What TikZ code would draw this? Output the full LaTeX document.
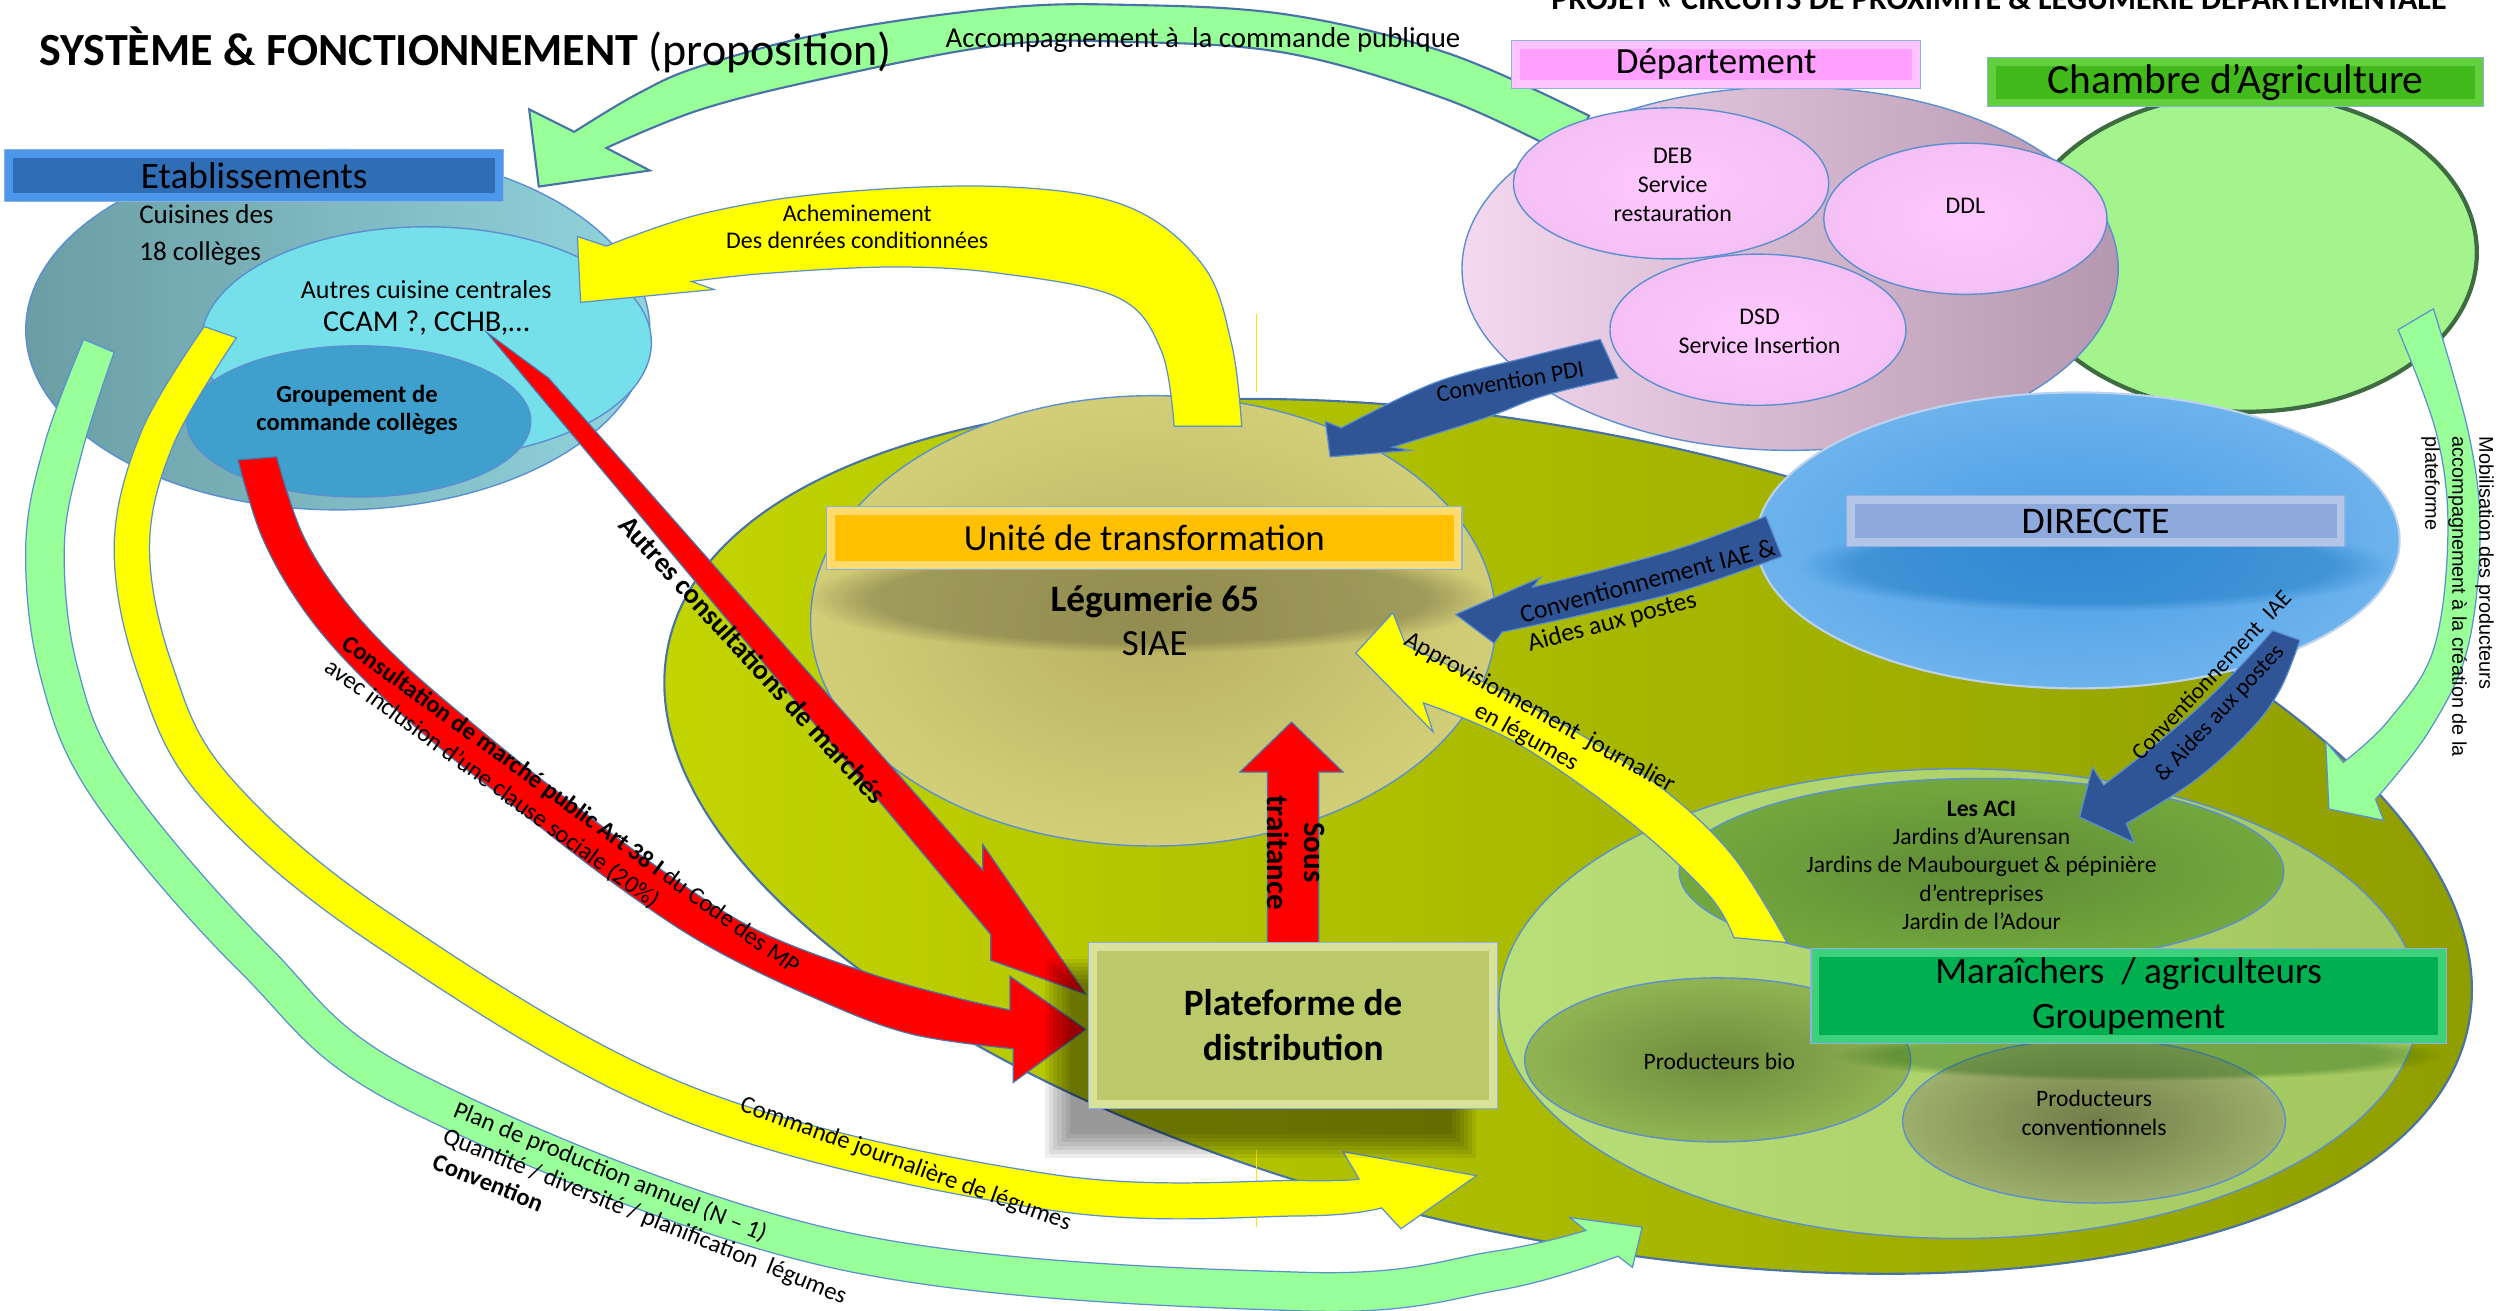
\documentclass[tikz,border=0pt]{standalone}
\usepackage{fontspec}
\setmainfont{Carlito}
\newfontfamily\arialfont{Liberation Sans}
\usetikzlibrary{fadings}
\newcommand\fs[2]{\fontsize{#1}{#2}\selectfont}
\newcommand\pxu{0.016083cm}
\definecolor{edgeblue}{HTML}{5B8FD0}
\definecolor{olivedark}{HTML}{8E9C00}
\definecolor{olivelight}{HTML}{C3D600}
\definecolor{tealdark}{HTML}{6B9DA4}
\definecolor{teallight}{HTML}{92D4DD}
\definecolor{cyanfill}{HTML}{76E0EA}
\definecolor{groupblue}{HTML}{3F9FCD}
\definecolor{pinkL}{HTML}{F4D8F0}
\definecolor{pinkR}{HTML}{B597AF}
\definecolor{pinkC}{HTML}{FFC8FF}
\definecolor{chambreG}{HTML}{A3F48D}
\definecolor{chambreE}{HTML}{3E6B40}
\definecolor{dirC}{HTML}{4A9BE2}
\definecolor{dirO}{HTML}{8FCBF9}
\definecolor{uniteC}{HTML}{B7B062}
\definecolor{uniteO}{HTML}{EDED8E}
\definecolor{maraiL}{HTML}{B9DF78}
\definecolor{maraiR}{HTML}{A3C65E}
\definecolor{aciC}{HTML}{5F8B35}
\definecolor{aciO}{HTML}{86C546}
\definecolor{bioC}{HTML}{6E8B3D}
\definecolor{bioO}{HTML}{B4DE68}
\definecolor{convC}{HTML}{727C48}
\definecolor{convO}{HTML}{C8E38F}
\definecolor{arrowyellow}{HTML}{FFFF00}
\definecolor{arrowred}{HTML}{FF0000}
\definecolor{arrowgreen}{HTML}{99FF99}
\definecolor{arrowblue}{HTML}{2F5597}
\definecolor{etabO}{HTML}{4C97EC}
\definecolor{etabI}{HTML}{2F6DB6}
\definecolor{deptO}{HTML}{FFC4FF}
\definecolor{deptI}{HTML}{FF9FFF}
\definecolor{chamO}{HTML}{62CF3E}
\definecolor{chamI}{HTML}{42BA1C}
\definecolor{dirhO}{HTML}{B3C6E9}
\definecolor{dirhI}{HTML}{8EA9DB}
\definecolor{uniO}{HTML}{FFDB6E}
\definecolor{uniI}{HTML}{FFC000}
\definecolor{marO}{HTML}{3ED07A}
\definecolor{marI}{HTML}{00B050}
\definecolor{platO}{HTML}{D9E29B}
\definecolor{platI}{HTML}{BCC96B}
\colorlet{radin}{black}\colorlet{radout}{white}
\pgfdeclareradialshading[radin,radout]{softrad}{\pgfpointorigin}{color(0bp)=(radin); color(50bp)=(radout)}
\tikzset{
  rad/.style 2 args={/utils/exec={\colorlet{radin}{#1}\colorlet{radout}{#2}}, shading=softrad},
  bevel/.style 2 args={draw=edgeblue!70, line width=0.3pt, fill=#1, inner sep=0pt,
    path picture={\fill[#2] ([xshift=2.4pt,yshift=-2.4pt]path picture bounding box.north west) rectangle ([xshift=-2.4pt,yshift=2.4pt]path picture bounding box.south east);}},
  shape edge/.style={draw=edgeblue, line width=0.4pt},
  yarrow/.style={fill=arrowyellow, draw=edgeblue, line width=0.35pt, line join=miter},
  rarrow/.style={fill=arrowred, draw=edgeblue!80!black, line width=0.35pt, line join=miter},
  garrow/.style={fill=arrowgreen, draw=edgeblue, line width=0.35pt, line join=miter},
  barrow/.style={fill=arrowblue, draw=edgeblue, line width=0.35pt, line join=miter},
  lbl/.style={inner sep=1pt, text=black},
}
\begin{document}
\begin{tikzpicture}[x=0.016083cm, y=-0.016083cm]
\useasboundingbox (0,0) rectangle (1560,815);
\clip (0,0) rectangle (1560,815);

% ---------------- big olive ellipse
\shadedraw[left color=olivelight, right color=olivedark, draw=edgeblue!80!black, line width=0.6pt,
  rotate around={-12:(975,520)}] (975,520) ellipse [x radius=572, y radius=250];

% ---------------- Etablissements group
\shadedraw[left color=tealdark, right color=teallight, shape edge] (210,205) ellipse [x radius=194, y radius=112];
\filldraw[fill=cyanfill, shape edge] (265,213) ellipse [x radius=140, y radius=72];
\filldraw[fill=groupblue, shape edge] (223,262) ellipse [x radius=107, y radius=47];

% ---------------- Unite de transformation
\shadedraw[rad={uniteC}{uniteO}, shape edge] (717,386) ellipse [x radius=213, y radius=140];
\fill[black!60!olive, opacity=0.35, path fading=circle with fuzzy edge 20 percent] (715,372) ellipse [x radius=215, y radius=34];

% ---------------- Chambre d'Agriculture ellipse
\filldraw[fill=chambreG, draw=chambreE, line width=1.2pt] (1397,157) ellipse [x radius=143, y radius=99];

% ---------------- green arrow (accompagnement)
\path[garrow, draw=edgeblue!80!black, line width=0.6pt]
  plot[smooth, tension=0.6] coordinates {(988,72) (900,33) (800,9) (700,3) (622,5) (516,20) (436,41) (397,58) (357,82)}
  -- (329,68) -- (335,116) -- (404,106)
  -- plot[smooth, tension=0.6] coordinates {(377,92) (436,68) (516,48) (622,28) (700,26) (800,33) (900,62) (975,97)} -- cycle;

% ---------------- Departement
\shadedraw[left color=pinkL, right color=pinkR, shape edge] (1113,167) ellipse [x radius=204, y radius=113];
\path[barrow]
  plot[smooth, tension=0.6] coordinates {(995,211) (950,222) (892,238) (834,266)}
  -- (824,262) -- (827,284) -- (877,280)
  -- plot[smooth, tension=0.6] coordinates {(866,278) (923,260) (960,246) (1006,235)} -- cycle;
\shadedraw[rad={pinkC}{pinkC!92!black}, shape edge] (1039,114) ellipse [x radius=98, y radius=47];
\shadedraw[rad={pinkC}{pinkC!92!black}, shape edge] (1222,136) ellipse [x radius=88, y radius=47];
\shadedraw[rad={pinkC}{pinkC!92!black}, shape edge] (1093,205) ellipse [x radius=92, y radius=47];
\node[lbl, font=\fs{6.8}{8.2}, align=center] (deb) at (1040,115) {DEB\\Service\\restauration};
\node[lbl, font=\fs{6.8}{8.2}] (ddl) at (1222,128) {DDL};
\node[lbl, font=\fs{6.8}{8.2}, align=center] (dsd) at (1094,206) {DSD\\Service Insertion};
\node[bevel={deptO}{deptI}, minimum width=254*\pxu, minimum height=30*\pxu, font=\fs{10.5}{12}] (dept) at (1067,40) {Département};
\node[bevel={chamO}{chamI}, minimum width=308*\pxu, minimum height=31*\pxu, font=\fs{11.8}{13}] (cham) at (1390,51) {Chambre d’Agriculture};

% ---------------- DIRECCTE
\shadedraw[rad={dirC}{dirO}, draw=white!60!edgeblue, line width=0.6pt] (1292,336) ellipse [x radius=200, y radius=92];
\fill[black!50!blue!60!cyan, opacity=0.35, path fading=circle with fuzzy edge 20 percent] (1303,352) ellipse [x radius=185, y radius=28];
\node[bevel={dirhO}{dirhI}, minimum width=310*\pxu, minimum height=32*\pxu, font=\fs{10.7}{12}] (dirh) at (1303,324) {DIRECCTE};

% ---------------- Maraichers group
\shadedraw[left color=maraiL, right color=maraiR, shape edge] (1218,624) ellipse [x radius=286, y radius=146];
\shadedraw[rad={aciC}{aciO}, shape edge] (1232,542) ellipse [x radius=188, y radius=58];
\shadedraw[rad={bioC}{bioO}, shape edge] (1068,659) ellipse [x radius=120, y radius=51];
\shadedraw[rad={convC}{convO}, shape edge] (1302,697) ellipse [x radius=119, y radius=51];
\node[lbl, font=\fs{6.7}{8.1}, align=center] (aci) at (1232,538) {\textbf{Les ACI}\\Jardins d’Aurensan\\Jardins de Maubourguet \& pépinière\\d’entreprises\\Jardin de l’Adour};
\node[lbl, font=\fs{6.7}{8.1}] (bio) at (1069,660) {Producteurs bio};
\node[lbl, font=\fs{6.7}{8.2}, align=center] (conv) at (1302,692) {Producteurs\\conventionnels};
\fill[black!70!green, opacity=0.3, path fading=circle with fuzzy edge 20 percent] (1330,656) ellipse [x radius=190, y radius=16];
\node[bevel={marO}{marI}, minimum width=395*\pxu, minimum height=59*\pxu, align=center, font=\fs{10.6}{12.8}] (marh) at (1323.5,619.5) {Maraîchers\ \ / agriculteurs\\Groupement};

% ---------------- Unite header & texts
\node[bevel={uniO}{uniI}, minimum width=395*\pxu, minimum height=39*\pxu, font=\fs{10.5}{12}] (unih) at (711.5,334.5) {Unité de transformation};
\node[lbl, font=\fs{10.6}{12}\bfseries] (leg) at (718,374) {Légumerie 65};
\node[lbl, font=\fs{10.5}{12}] (siae) at (718,400) {SIAE};

% ---------------- Etablissements texts
\node[bevel={etabO}{etabI}, minimum width=310*\pxu, minimum height=32*\pxu, font=\fs{10.6}{12}] (etab) at (158,109) {Etablissements};
\node[lbl, font=\fs{7.7}{10.5}, align=left, anchor=west] (cuis) at (84,146) {Cuisines des\\18 collèges};
\node[lbl, font=\fs{7.4}{9}] (autres) at (265,180) {Autres cuisine centrales};
\node[lbl, font=\fs{8.6}{10}] (ccam) at (265,201) {CCAM ?, CCHB,…};
\node[lbl, font=\fs{7}{7.8}\bfseries, align=center] (grp) at (222,255) {Groupement de\\commande collèges};

% ---------------- thin guide lines
\coordinate (g1a) at (781,195); \coordinate (g1b) at (781,244);
\coordinate (g2a) at (781,715); \coordinate (g2b) at (781,763);
\draw[yellow!85!orange, line width=0.3pt] (g1a) -- (g1b);
\draw[yellow!85!orange, line width=0.3pt] (g2a) -- (g2b);

% ---------------- arrows
% acheminement
\path[yarrow]
  plot[smooth, tension=0.6] coordinates {(377,153) (436,133) (516,120) (622,116) (700,128) (748,165) (766,215) (772,265)}
  -- plot[smooth, tension=0.6] coordinates {(730,265) (722,218) (695,185) (622,170) (555,166) (476,170) (430,175)}
  -- (444,180) -- (361,188) -- (359,147) -- cycle;
% autres consultations
\path[rarrow] (303,207) -- (341,235) -- (611,541) -- (611,525) -- (675,618) -- (616,597) -- (616,581) -- cycle;
% consultation marche public
\path[rarrow]
  plot[smooth, tension=0.6] coordinates {(148,286) (163,334) (188,378) (222,418) (270,462) (318,500) (380,548) (440,588) (510,622) (567,643) (630,652)}
  -- (630,673) -- (675,640) -- (628,607)
  -- plot[smooth, tension=0.6] coordinates {(628,628) (593,620) (540,605) (470,578) (410,540) (350,495) (300,455) (250,412) (214,373) (188,332) (172,284)} -- cycle;
% sous traitance
\path[rarrow] (788,588) -- (788,480) -- (771,480) -- (803,449) -- (835,480) -- (820,480) -- (820,588) -- cycle;
% conventionnement IAE left
\path[barrow]
  plot[smooth, tension=0.6] coordinates {(1098,321) (1050,339) (1005,352) (953,365)}
  -- (958,359) -- (905,382) -- (929,400)
  -- plot[smooth, tension=0.6] coordinates {(934,393) (985,382) (1047,367) (1108,346)} -- cycle;
% conventionnement IAE right
\path[barrow]
  plot[smooth, tension=0.6] coordinates {(1413,392) (1395,412) (1369,438) (1340,463) (1308,488)}
  -- (1301,477) -- (1293,508) -- (1327,524)
  -- plot[smooth, tension=0.6] coordinates {(1322,512) (1365,485) (1400,453) (1418,428) (1430,398)} -- cycle;
% approvisionnement
\path[yarrow]
  plot[smooth, tension=0.6] coordinates {(1111,586) (1078,533) (1037,493) (985,458) (930,428) (874,401)}
  -- (866,381) -- (843,406) -- (891,455)
  -- plot[smooth, tension=0.6] coordinates {(885,437) (943,462) (1012,510) (1062,556) (1078,583)} -- cycle;
% mobilisation
\path[garrow]
  plot[smooth, tension=0.6] coordinates {(1491,205) (1515,270) (1522,332) (1513,404) (1485,448) (1457,474)}
  -- (1446,461) -- (1448,503) -- (1482,510)
  -- plot[smooth, tension=0.6] coordinates {(1477,497) (1510,455) (1534,404) (1542,332) (1535,270) (1513,192)} -- cycle;
% commande journaliere (yellow, bottom)
\path[yarrow]
  plot[smooth, tension=0.6] coordinates {(127,203) (88,268) (71,340) (86,420) (126,497) (232,587) (423,696) (650,752) (809,756) (859,751)}
  -- (871,764) -- (918,731) -- (835,716)
  -- plot[smooth, tension=0.6] coordinates {(845,733) (809,734) (653,730) (431,676) (244,569) (143,483) (107,413) (93,340) (108,276) (147,210)} -- cycle;
% plan de production (green, bottom)
\path[garrow]
  plot[smooth, tension=0.6] coordinates {(52,211) (28,275) (16,340) (25,420) (58,497) (150,605) (253,690) (516,788) (808,815) (933,802) (1006,781)}
  -- (1015,788) -- (1021,763) -- (976,757)
  -- plot[smooth, tension=0.6] coordinates {(986,765) (929,778) (809,791) (521,765) (264,669) (167,588) (78,484) (48,414) (40,340) (51,281) (71,219)} -- cycle;

% ---------------- Plateforme
\foreach \k in {0,...,6}{\fill[black, opacity=0.07] ({650+2.5*\k},{596+2.5*\k}) rectangle ({918-2.5*\k},{720-2.5*\k});}
\node[bevel={platO}{platI}, minimum width=254*\pxu, minimum height=103*\pxu, align=center, font=\fs{10.6}{12.8}\bfseries] (plat) at (804,637.5) {Plateforme de\\distribution};

% ---------------- labels
\node[lbl, anchor=base west, font=\fs{13.1}{16}] (title) at (22,41) {\textbf{SYSTÈME \& FONCTIONNEMENT} (proposition)};
\node[lbl, anchor=base west, font=\fs{9.1}{11}\bfseries] (projet) at (962,6) {PROJET « CIRCUITS DE PROXIMITÉ \& LÉGUMERIE DÉPARTEMENTALE};
\node[lbl, font=\fs{8.2}{10}] (lblacc) at (748,25) {Accompagnement à\ \ la commande publique};
\node[lbl, font=\fs{6.8}{7.9}, align=center] (lblach) at (533,141) {Acheminement\\Des denrées conditionnées};
\node[lbl, font=\fs{8}{9.6}\bfseries, rotate=-47.5] (lblautres) at (468,410) {Autres consultations de marchés};
\node[font=\fs{7}{8.2}, rotate=-36, anchor=north west, align=left, inner sep=0pt] (lblcons) at (218,393) {\textbf{Consultation de marché public Art 38 I} du Code des MP\\avec inclusion d’une clause sociale (20\%)};
\node[lbl, font=\fs{8.8}{10.5}\bfseries, rotate=-90, align=center] (lblsous) at (806,530) {Sous\\traitance};
\node[lbl, font=\fs{6.8}{8}, rotate=10] (lblpdi) at (939,237) {Convention PDI};
\node[lbl, font=\fs{7.3}{8.4}, rotate=15, align=left] (lbliae1) at (1027,371) {Conventionnement IAE \&\\Aides aux postes};
\node[font=\fs{6.6}{8}, rotate=47, anchor=base west, inner sep=0pt] (lbliae2a) at (1331,474) {Conventionnement\ \ IAE};
\node[font=\fs{6.6}{8}, rotate=47, anchor=base west, inner sep=0pt] (lbliae2b) at (1345,487) {\& Aides aux postes};
\node[lbl, font=\fs{7}{7.8}, rotate=-29, align=center] (lblappro) at (953,451) {Approvisionnement\ \ journalier\\en légumes};
\node[font=\arialfont\fs{5.65}{7.7}, rotate=-90, anchor=north west, align=left, inner sep=0pt] (lblmob) at (1551,271) {Mobilisation des producteurs\\accompagnement à la création de la\\plateforme};
\node[lbl, font=\fs{7}{8.2}, rotate=-20] (lblcmd) at (563,724) {Commande journalière de légumes};
\node[font=\fs{7}{8}, rotate=-22, anchor=north west, align=left, inner sep=0pt] (lblplan) at (285,683) {Plan de production annuel (N – 1)\\Quantité / diversité / planification\ \ légumes\\\textbf{Convention}};
\end{tikzpicture}
\end{document}
